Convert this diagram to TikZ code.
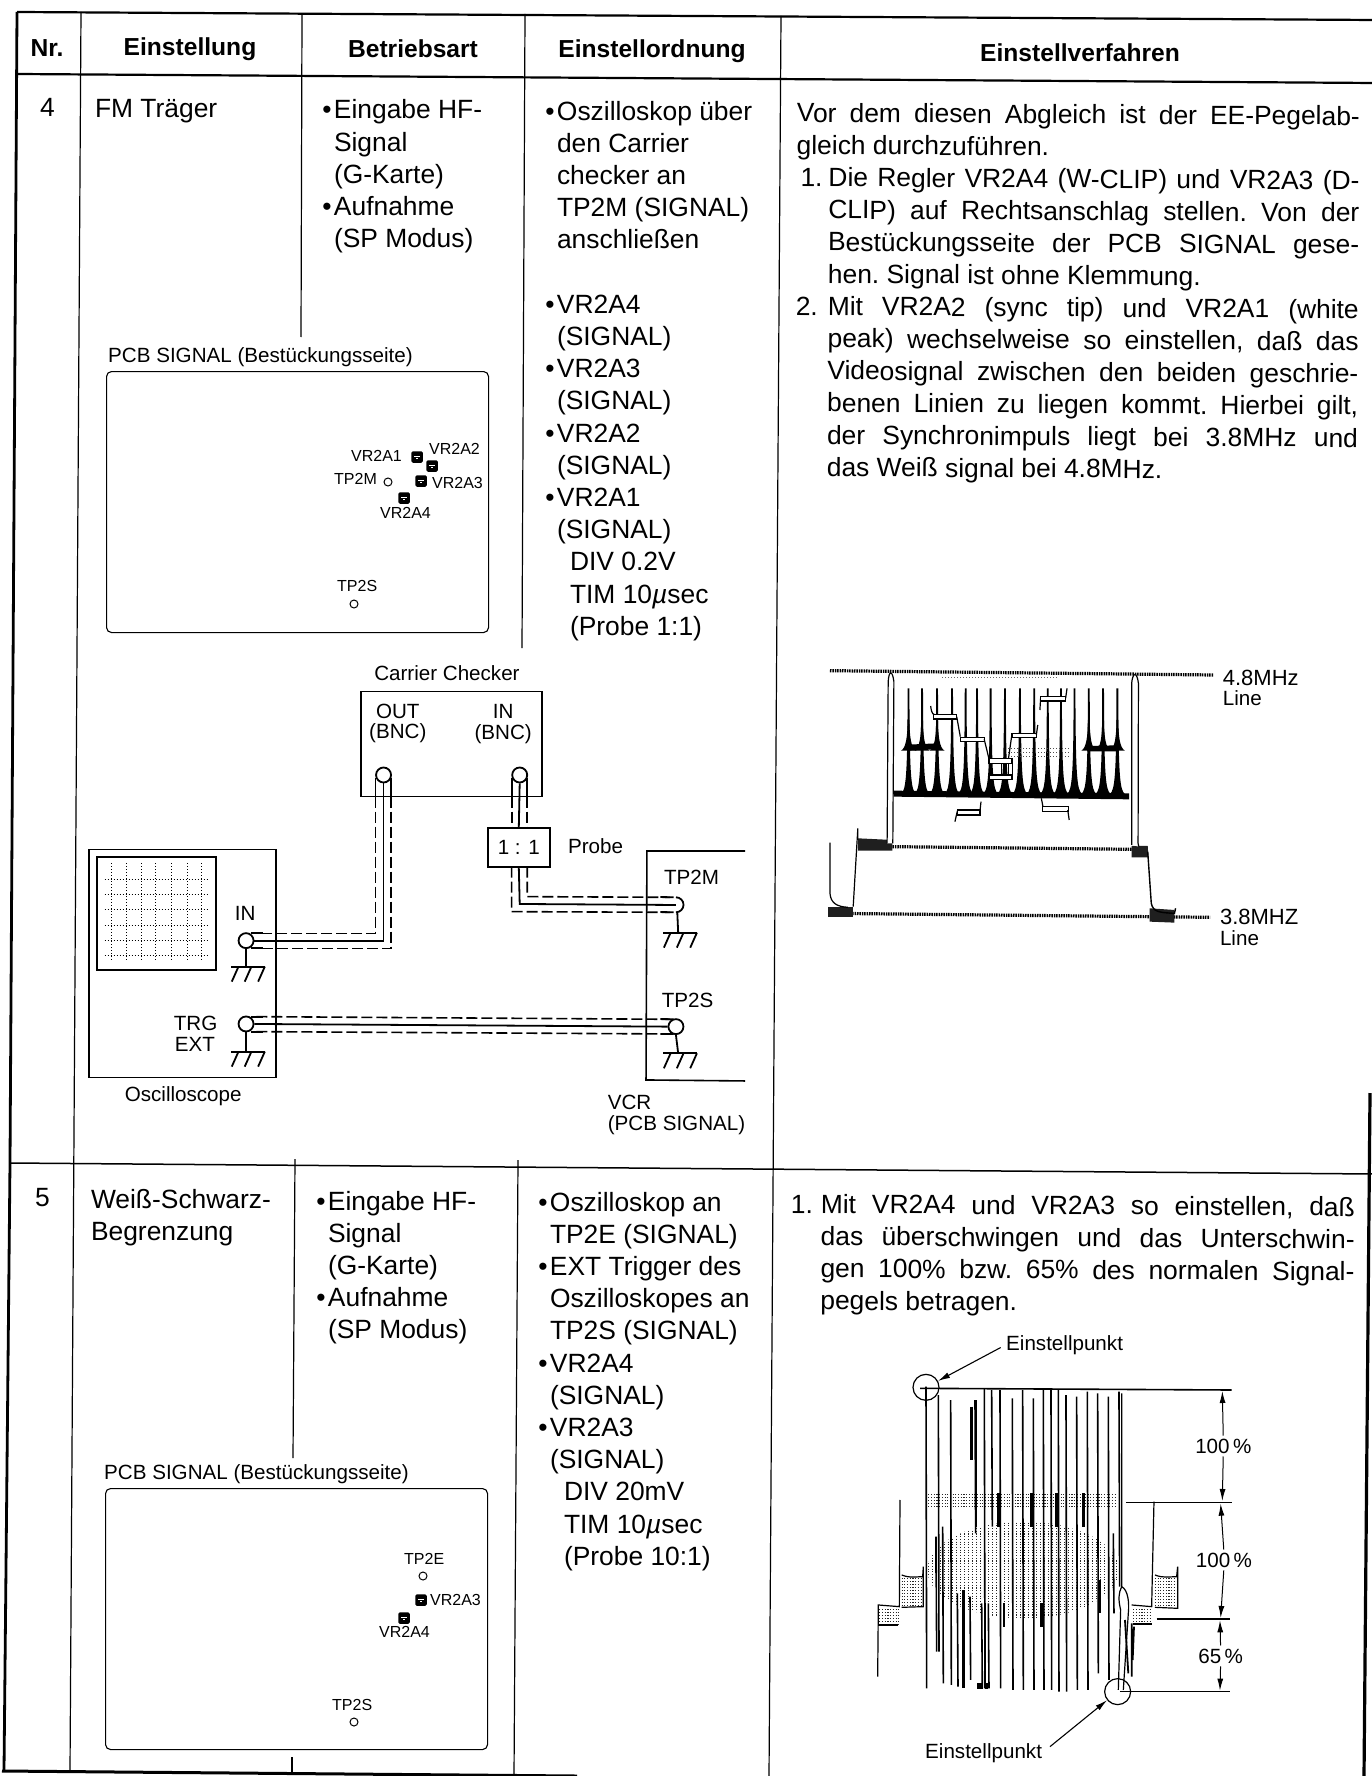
\documentclass[tikz,border=0pt]{standalone}
\usepackage{fontspec}
\setmainfont{Liberation Sans}
\usetikzlibrary{arrows.meta}
\newcommand\fb{\fontsize{26.4}{32.2}\selectfont\frenchspacing}
\newcommand\fh{\fontsize{24.6}{30}\selectfont\bfseries}
\newcommand\fm{\fontsize{20.6}{20.6}\selectfont}
\newcommand\fw{\fontsize{22}{22}\selectfont}
\newcommand\fs{\fontsize{16}{16}\selectfont}
\newcommand\st{\vrule height22pt depth0pt width0pt}
\newcommand\bu{\leavevmode\llap{\textbullet\hspace{2.5pt}}}
\newcommand\li[2]{\hbox to 563pt{\hbox to 32pt{#1\hfil}\hbox to 531pt{#2}}}
\newcommand\lj[2]{\hbox to 564pt{\hbox to 30pt{#1\hfil}\hbox to 534pt{#2}}}
\newcommand\trim[3]{\node[trimbox] (#1) at (#2,#3) {};
  \fill[white] (#1.center) ++(-2.6,-1.4) rectangle ++(5.2,1.4);
  \fill[white] (#1.center) ++(-1.4,1.4) rectangle ++(2.8,1);}
\newcommand\gnd[1]{\draw[wire] (#1) ++(-33,0) -- ++(75,0);
  \draw[wire] (#1) ++(-17,0) -- ++(-15,45);
  \draw[wire] (#1) ++(12,0) -- ++(-15,45);
  \draw[wire] (#1) ++(42,0) -- ++(-15,45);}
\newcommand\wbox[4]{\draw[line width=1.3pt,fill=white] (#1,#2) rectangle (#3,#4);}
\newcommand\stipbox[4]{\pgfmathsetmacro\nxy{#2+9}\foreach \yy in {#2,\nxy,...,#4} \draw[stipl] (#1,\yy) -- (#3,\yy);}
\tikzset{
 frame/.style={line width=2.8pt,black},
 hrule/.style={line width=2.2pt,black},
 rule/.style={line width=1.2pt,black},
 body/.style={font=\fb,align=left,anchor=north west,inner sep=0pt,outer sep=0pt},
 tiltbody/.style={body,rotate=-0.33},
 head/.style={font=\fh,inner sep=0pt},
 mid/.style={font=\fm,inner sep=0pt,align=center},
 small/.style={font=\fs,inner sep=0pt,anchor=base west},
 pcb/.style={draw,line width=1.1pt,rounded corners=5pt,inner sep=0pt,anchor=north west},
 tp/.style={draw,circle,line width=1pt,minimum size=8pt,inner sep=0pt},
 trimbox/.style={fill=black,rounded corners=1.5pt,minimum size=11.5pt,inner sep=0pt},
 bx/.style={draw,line width=1.6pt,inner sep=0pt},
 wire/.style={line width=1.8pt},
 shield/.style={line width=1.6pt,dash pattern=on 11pt off 4pt},
 bnc/.style={draw,circle,fill=white,line width=1.8pt,minimum size=15pt,inner sep=0pt},
 rail/.style={line width=3.2pt,dash pattern=on 1.5pt off 0.9pt},
 dim/.style={line width=1pt,-{Latex[length=12pt,width=6pt]},shorten <=3pt},
 stipl/.style={line width=1pt,dash pattern=on 1.1pt off 1.6pt,black!85},
}
\begin{document}
\begin{tikzpicture}[x=1pt,y=-1pt]
\useasboundingbox (0,0) rectangle (1371,1776);
% --- table rules
\draw[frame] (17,12) -- (10,1163) -- (4,1771);
\draw[line width=3.2pt] (1370,1093) -- (1364,1776);
\draw[hrule] (17,12) -- (1375,20);
\draw[hrule] (17,74) -- (1375,83);
\draw[line width=1.5pt] (10,1163) -- (1375,1174);
\draw[line width=3pt] (2,1771) -- (577,1776);
\draw[rule] (81,12) -- (70,1772);
\draw[rule] (302,14) -- (301,337);
\draw[rule] (295,1159) -- (293,1458);
\draw[rule] (292,1757) -- (292,1774);
\draw[rule] (525,14) -- (522,648);
\draw[rule] (518,1160) -- (514,1776);
\draw[rule] (781,16) -- (769,1776);
% --- header
\node[head] (hNr) at (47,48) {Nr.};
\node[head] (hEin) at (190,49) {Einstellung};
\node[head] (hBet) at (413,49) {Betriebsart};
\node[head] (hOrd) at (652,51) {Einstellordnung};
\node[head] (hVer) at (1080,53) {Einstellverfahren};
% --- row 4 text
\node[body] (n4) at (40,95) {\st 4};
\node[body] (a4) at (95,96) {\st FM Träger};
\node[body] (b4) at (334,97) {\st\bu Eingabe HF-\\Signal\\(G-Karte)\\\bu Aufnahme\\(SP Modus)};
\node[body] (c4) at (557,98) {\st\bu Oszilloskop über\\den Carrier\\checker an\\TP2M (SIGNAL)\\anschließen\\ \mbox{}\\\bu VR2A4\\(SIGNAL)\\\bu VR2A3\\(SIGNAL)\\\bu VR2A2\\(SIGNAL)\\\bu VR2A1\\(SIGNAL)\\\hspace{13pt}DIV 0.2V\\\hspace{13pt}TIM 10{\itshape µ}sec\\\hspace{13pt}(Probe 1:1)};
\node[tiltbody] (d4) at (797,100) {\st\hbox to 563pt{Vor dem diesen Abgleich ist der EE-Pegelab-}\\
gleich durchzuführen.\\
\li{\hspace{4pt}1.}{Die Regler VR2A4 (W-CLIP) und VR2A3 (D-}\\
\li{}{CLIP) auf Rechtsanschlag stellen. Von der}\\
\li{}{Bestückungsseite der PCB SIGNAL gese-}\\
\li{}{hen. Signal ist ohne Klemmung.\hfil}\\
\li{2.}{Mit VR2A2 (sync tip) und VR2A1 (white}\\
\li{}{peak) wechselweise so einstellen, daß das}\\
\li{}{Videosignal zwischen den beiden geschrie-}\\
\li{}{benen Linien zu liegen kommt. Hierbei gilt,}\\
\li{}{der Synchronimpuls liegt bei 3.8MHz und}\\
\li{}{das Weiß signal bei 4.8MHz.\hfil}};
% --- row 5 text
\node[body] (n5) at (35,1184) {\st 5};
\node[body] (a5) at (91,1186) {\st Weiß-Schwarz-\\Begrenzung};
\node[body] (b5) at (328,1188) {\st\bu Eingabe HF-\\Signal\\(G-Karte)\\\bu Aufnahme\\(SP Modus)};
\node[body] (c5) at (550,1189) {\st\bu Oszilloskop an\\TP2E (SIGNAL)\\\bu EXT Trigger des\\Oszilloskopes an\\TP2S (SIGNAL)\\\bu VR2A4\\(SIGNAL)\\\bu VR2A3\\(SIGNAL)\\\hspace{14pt}DIV 20mV\\\hspace{14pt}TIM 10{\itshape µ}sec\\\hspace{14pt}(Probe 10:1)};
\node[tiltbody] (d5) at (791,1191) {\st\lj{1.}{Mit VR2A4 und VR2A3 so einstellen, daß}\\
\lj{}{das überschwingen und das Unterschwin-}\\
\lj{}{gen 100\% bzw. 65\% des normalen Signal-}\\
\lj{}{pegels betragen.\hfil}};
% --- PCB panel row 4
\node[font=\fm,inner sep=0pt,anchor=base west] (t1) at (108,362) {PCB SIGNAL (Bestückungsseite)};
\node[pcb,minimum width=382pt,minimum height=261pt] (pcb1) at (106,371) {};
\node[small] (l1) at (351,461) {VR2A1};
\node[small] (l2) at (429,454) {VR2A2};
\node[small] (l3) at (334,484) {TP2M};
\node[small] (l4) at (432,488) {VR2A3};
\node[small] (l5) at (380,518) {VR2A4};
\node[small] (l6) at (337,591) {TP2S};
\node[tp] (p1) at (388,482) {};
\node[tp] (p2) at (354,604) {};
\trim{v1}{417}{457}
\trim{v2}{432}{466}
\trim{v3}{421}{481}
\trim{v4}{404}{498}
% --- PCB panel row 5
\node[font=\fm,inner sep=0pt,anchor=base west] (t2) at (104,1479) {PCB SIGNAL (Bestückungsseite)};
\node[pcb,minimum width=382pt,minimum height=261pt] (pcb2) at (105,1488) {};
\node[small] (m1) at (404,1564) {TP2E};
\node[small] (m2) at (430,1605) {VR2A3};
\node[small] (m3) at (379,1637) {VR2A4};
\node[small] (m4) at (332,1710) {TP2S};
\node[tp] (q1) at (423,1576) {};
\node[tp] (q2) at (354,1722) {};
\trim{w1}{421}{1600}
\trim{w2}{404}{1618}
% --- wiring diagram (zoom coordinates)
\begin{scope}[shift={(80,650)},x=0.4464pt,y=-0.3333pt]
\node[mid,anchor=base] (cc) at (822,90) {Carrier Checker};
\node[bx,minimum width=181pt,minimum height=105pt] (chk) at (832,282) {};
\node[mid,anchor=base] (o1) at (712,205) {OUT};
\node[mid,anchor=base] (o2) at (712,265) {(BNC)};
\node[mid,anchor=base] (i1) at (948,205) {IN};
\node[mid,anchor=base] (i2) at (948,268) {(BNC)};
\node[bx,minimum width=187pt,minimum height=228pt] (osc) at (230,940) {};
\draw[line width=1.8pt] (38,620) rectangle (305,960);
\foreach \y in {687,732,778,825,870,915} \draw[line width=0.8pt,dash pattern=on 1pt off 2pt] (55,\y) -- (290,\y);
\foreach \x in {70,103,137,170,205,240,272} \draw[line width=0.8pt,dash pattern=on 1pt off 2pt] (\x,640) -- (\x,935);
\node[mid,anchor=base] (lin) at (370,812) {IN};
\node[mid,anchor=base east] (ltrg) at (308,1143) {TRG};
\node[mid,anchor=base east] (lext) at (303,1205) {EXT};
\node[mid,anchor=base west] (losc) at (100,1355) {Oscilloscope};
\node[bx,fill=white,minimum width=62pt,minimum height=39pt,font=\fm] (pr) at (983,592) {1 : 1};
\node[mid,anchor=base west] (lpr) at (1093,612) {Probe};
\draw[line width=1.6pt] (1490,603) -- (1270,603) -- (1268,1290) -- (1490,1293);
\node[mid,anchor=base west] (l2m) at (1308,705) {TP2M};
\node[mid,anchor=base west] (l2s) at (1303,1072) {TP2S};
\node[mid,anchor=base west] (lvcr) at (1182,1378) {VCR};
\node[mid,anchor=base west] (lpcb) at (1182,1442) {(PCB SIGNAL)};
% connectors
\node[bnc] (cOut) at (680,375) {};
\node[bnc] (cIn) at (985,375) {};
\node[bnc] (sIn) at (372,872) {};
\node[bnc] (sTrg) at (372,1122) {};
\node[bnc] (vS) at (1335,1130) {};
\node[circle,minimum size=15pt,inner sep=0pt] (vM) at (1335,765) {};
\coordinate (a1) at (680,872);
\draw[wire] (cOut.south) -- (a1) -- (sIn.east);
\draw[wire] (cIn.south) -- (pr.north);
\coordinate (a2) at (985,762);
\draw[wire] (pr.south) -- (a2) -- (vM.center);
\draw[wire] (sTrg.east) -- (vS.west);
\draw[wire] (vM.north) arc[start angle=-90,end angle=90,x radius=17,y radius=22.5];
\draw[shield] (662,440) -- (662,850) -- (395,850);
\draw[shield] (697,440) -- (697,895) -- (395,895);
\draw[wire] (662,385) -- (662,440) (697,385) -- (697,440);
\draw[shield] (968,440) -- (968,533) (1002,440) -- (1002,533);
\draw[wire] (968,385) -- (968,440) (1002,385) -- (1002,440);
\draw[shield] (1002,650) -- (1002,740) -- (1322,742);
\draw[shield] (967,650) -- (967,785) -- (1322,787);
\draw[shield] (395,1100) -- (1322,1108);
\draw[shield] (395,1145) -- (1322,1152);
\draw[wire] (382,850) -- (410,850) (382,895) -- (410,895) (382,1100) -- (410,1100) (382,1145) -- (410,1145);
\draw[wire] (1300,741) -- (1330,742) (1300,786) -- (1330,787) (1300,1107) -- (1330,1108) (1300,1152) -- (1330,1152);
% grounds
\coordinate (g1) at (372,950);
\coordinate (g2) at (372,1205);
\coordinate (g3) at (1340,848);
\coordinate (g4) at (1340,1210);
\draw[wire] (sIn.south) -- (g1);
\draw[wire] (sTrg.south) -- (g2);
\draw[wire] (1338,787) -- (g3);
\draw[wire] (vS.south) -- (g4);
\gnd{g1}\gnd{g2}\gnd{g3}\gnd{g4}
\end{scope}
% --- waveform 1 (zoom coordinates)
\begin{scope}[shift={(780,620)},x=0.357pt,y=-0.3333pt]
\foreach \x in {360,398,440,482,520,552,590,630,672,712,750,787,825,865,905,945}
  \fill (\x-21,522) .. controls (\x-7,510) and (\x-3,470) .. (\x-2.5,205) -- (\x+2.5,205) .. controls (\x+3,470) and (\x+7,510) .. (\x+21,522) -- cycle;
\foreach \x in {360,398,440,865,905,945}
  \fill (\x-21,392) .. controls (\x-7,384) and (\x-3,350) .. (\x-2.5,300) -- (\x+2.5,300) .. controls (\x+3,350) and (\x+7,384) .. (\x+21,392) -- cycle;
\fill (318,512) -- (978,520) -- (978,538) -- (318,530) -- cycle;
\fill (358,374) -- (440,370) -- (440,388) -- (358,392) -- cycle;
\fill (860,378) -- (945,376) -- (945,394) -- (860,394) -- cycle;
\draw[line width=0.7pt,dash pattern=on 1pt off 2pt,black!60] (455,172) -- (780,172);
\foreach \y in {385,398,410} \draw[line width=0.8pt,dash pattern=on 1pt off 2pt,black!70] (640,\y) -- (815,\y);
% rails
\draw[rail] (140,152) -- (1215,165);
\draw[rail] (315,680) -- (985,688);
\draw[rail] (135,880) -- (1205,892);
% blobs and edges
\fill[black!88] (135,860) -- (205,860) -- (205,892) -- (135,892) -- cycle;
\fill[black!88] (218,655) -- (315,660) -- (315,692) -- (218,692) -- cycle;
\fill[black!88] (985,678) -- (1030,678) -- (1032,712) -- (985,712) -- cycle;
\fill[black!88] (1035,865) -- (1105,870) -- (1105,908) -- (1035,905) -- cycle;
\draw[line width=1.2pt] (140,668) -- (140,820) .. controls (142,850) and (160,860) .. (190,862);
\draw[line width=1.2pt] (205,860) -- (218,625) -- (218,660);
\draw[line width=1.4pt] (1030,695) -- (1040,850) .. controls (1045,875) and (1060,878) .. (1105,880) -- (1108,865);
\draw[line width=1.2pt,fill=white] (300,670) -- (303,185) .. controls (305,150) and (315,150) .. (319,185) -- (316,670);
\draw[line width=1.2pt,fill=white] (985,675) -- (985,190) .. controls (988,155) and (1000,155) .. (1004,190) -- (1003,670) -- (1005,680);
% staircase overlay
\draw[line width=1.2pt] (422,258) .. controls (425,285) and (430,283) .. (435,285);
\wbox{430}{283}{495}{297}
\draw[line width=1.2pt] (495,290) -- (505,350);
\wbox{505}{352}{572}{365}
\draw[line width=1.2pt] (572,358) -- (585,415);
\wbox{585}{415}{650}{430}
\wbox{585}{465}{650}{478}
\draw[line width=1.2pt] (620,430) -- (620,465) (640,430) -- (640,465) (652,420) -- (652,470);
\draw[line width=1.2pt] (640,415) -- (650,340);
\wbox{650}{340}{718}{352}
\draw[line width=1.2pt] (718,345) -- (722,315);
\draw[line width=1.2pt] (728,270) -- (730,235);
\wbox{730}{230}{800}{243}
\draw[line width=1.2pt] (800,235) -- (804,205);
\draw[line width=1.2pt] (490,605) -- (497,572);
\wbox{497}{570}{560}{585}
\draw[line width=1.2pt] (560,575) -- (563,545);
\draw[line width=1.2pt] (732,535) -- (737,562);
\wbox{735}{560}{808}{575}
\draw[line width=1.2pt] (806,570) -- (810,600);
\node[mid,font=\fw,anchor=base west] (w1a) at (1240,197) {4.8MHz};
\node[mid,anchor=base west] (w1b) at (1240,258) {Line};
\node[mid,font=\fw,anchor=base west] (w1c) at (1232,915) {3.8MHZ};
\node[mid,anchor=base west] (w1d) at (1232,978) {Line};
\end{scope}
% --- waveform 2 (zoom coordinates)
\begin{scope}[shift={(850,1320)},x=0.3333pt,y=-0.3333pt]
\stipbox{235}{525}{800}{565}
\begin{scope}
\clip (520,750) ellipse[x radius=288,y radius=145];
\foreach \x in {235,247,...,805} \draw[stipl] (\x,600) -- (\x,895);
\end{scope}
\stipbox{88}{868}{145}{915}
\stipbox{155}{775}{220}{860}
\stipbox{850}{868}{905}{912}
\stipbox{915}{775}{980}{860}
\foreach \x/\t/\b in {228/200/1105,265/225/995,302/240/1095,403/205/1105,450/210/1105,487/235/1110,518/210/1110,550/235/1110,580/210/1110,603/210/1110,625/210/1115,648/225/1115,680/230/1110,712/215/1110,743/220/1060,775/230/1080,807/215/800,258/650/995,425/210/620,360/830/1080,395/850/1105,415/850/1105,322/820/1100,375/240/640,278/620/1090,790/640/880}
  \draw[line width=1.6pt] (\x,\t) -- (\x+2,\b);
\foreach \x/\t/\b in {365/260/420,378/240/620,340/810/1105,405/850/1105,445/520/620,545/520/620,620/520/620,700/520/620,462/850/920,575/850/920,750/780/880,258/650/760,385/1090/1108,395/1090/1108,410/1090/1108}
  \draw[line width=2.8pt] (\x,\t) -- (\x,\b);
% steps left
\draw[line width=1.2pt] (83,1070) -- (85,855) -- (148,860) -- (150,540);
\draw[line width=1.2pt] (88,915) -- (145,915);
\draw[line width=1.2pt] (155,765) .. controls (180,775) and (200,770) .. (218,770) -- (220,740) -- (220,860) -- (155,862);
% steps right
\draw[line width=1.2pt] (845,855) -- (905,860) -- (912,545);
\draw[line width=1.2pt] (850,912) -- (905,912);
\draw[line width=1.2pt] (915,765) .. controls (940,775) and (960,770) .. (980,770) -- (983,740) -- (983,865) -- (915,862);
% bulge
\draw[line width=1.2pt] (815,220) -- (815,800) .. controls (805,820) and (805,840) .. (812,870) -- (805,1110);
\draw[line width=1.2pt] (815,800) .. controls (835,810) and (838,850) .. (835,880) -- (820,1110);
\draw[line width=1.8pt] (825,900) -- (835,1060) (845,910) -- (845,1070) (852,920) -- (848,1020);
% dimension lines
\draw[line width=1.6pt] (210,205) -- (1145,210);
\draw[line width=1.6pt] (828,547) -- (1145,547);
\draw[line width=1.6pt] (920,897) -- (1140,897);
\draw[line width=1.6pt] (810,1115) -- (1140,1115);
\node[draw,circle,line width=1.2pt,minimum size=26pt,inner sep=0pt] (c1) at (228,202) {};
\node[draw,circle,line width=1.2pt,minimum size=26pt,inner sep=0pt] (c2) at (803,1115) {};
\node[mid,font=\fontsize{20.6}{22}\selectfont,anchor=base west] (ep1) at (468,90) {Einstellpunkt};
\node[mid,font=\fontsize{20.6}{22}\selectfont,anchor=base west] (ep2) at (225,1315) {Einstellpunkt};
\draw[line width=1.1pt,-{Latex[length=12pt,width=6pt]},shorten <=6pt] (ep1.west) -- (c1);
\draw[line width=1.1pt,-{Latex[length=12pt,width=6pt]},shorten <=10pt] (ep2.east) -- (c2);
\node[mid] (d1) at (1120,378) {100\,\%};
\node[mid] (d2) at (1122,720) {100\,\%};
\node[mid] (d3) at (1112,1008) {65\,\%};
\draw[dim] (d1.north) -- (1117,213);
\draw[dim] (d1.south) -- (1117,543);
\draw[dim] (d2.north) -- (1112,551);
\draw[dim] (d2.south) -- (1112,894);
\draw[dim] (d3.north) -- (1110,901);
\draw[dim] (d3.south) -- (1110,1112);
\end{scope}
\end{tikzpicture}
\end{document}
